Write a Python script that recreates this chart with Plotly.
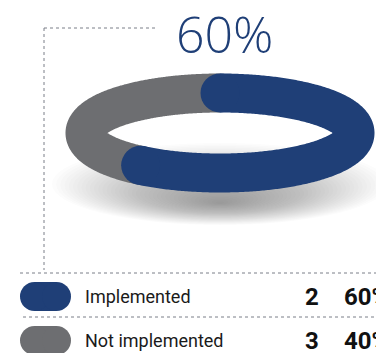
import numpy as np
import plotly.graph_objects as go

# ---- data ----
labels = ["Implemented", "Not implemented"]
counts = [2, 3]
percents = [60, 40]
colors = ["#1f3f77", "#6d6e71"]

W, H = 376, 353
cx, cy, rx, ry = 220, 133, 135, 40
band = 39

fig = go.Figure()

# soft floor shadow under the ring
N = 40
for i in range(N):
    s = 1 - i / N
    ycen = 203 - 18 * s
    fig.add_shape(type="circle", xref="x", yref="y",
                  x0=cx - 168 * s, x1=cx + 168 * s,
                  y0=ycen - 42 * s, y1=ycen + 40 * s,
                  fillcolor="rgba(70,70,70,0.014)", line_width=0, layer="below")

fracs = np.array(percents, dtype=float) / sum(percents)
starts = np.concatenate([[0], np.cumsum(fracs)[:-1]])

for k in reversed(range(len(labels))):
    t = 2 * np.pi * np.linspace(starts[k], starts[k] + fracs[k], 300)
    x = cx + rx * np.sin(t)
    y = cy - ry * np.cos(t)
    fig.add_trace(go.Scatter(x=x, y=y, mode="lines",
                             line=dict(color=colors[k], width=band, simplify=False),
                             hoverinfo="skip", showlegend=False))
    if k == 0:
        fig.add_trace(go.Scatter(x=[x[0], x[-1]], y=[y[0], y[-1]], mode="markers",
                                 marker=dict(color=colors[k], size=band, line_width=0),
                                 hoverinfo="skip", showlegend=False))

# big headline value
fig.add_annotation(x=224, y=33.5, xref="x", yref="y", text=f"{percents[0]}%",
                   showarrow=False, xanchor="center", yanchor="middle",
                   font=dict(family="Open Sans", size=50, color=colors[0], weight=300))

# dotted leader lines
dot = dict(color="#7a7f88", width=1, dash="dot")
fig.add_shape(type="line", xref="x", yref="y", x0=44, x1=156, y0=28, y1=28, line=dot)
fig.add_shape(type="line", xref="x", yref="y", x0=44, x1=44, y0=28, y1=270, line=dot)

# legend rows
row_y = [296.5, 340.5]
sep_y = [273, 317]
sep_x0 = [20, 23]
for k in range(len(labels)):
    fig.add_shape(type="line", xref="x", yref="y", x0=sep_x0[k], x1=376,
                  y0=sep_y[k], y1=sep_y[k], line=dot)
    fig.add_trace(go.Scatter(x=[34.5, 56.5], y=[row_y[k], row_y[k]], mode="lines+markers",
                             line=dict(color=colors[k], width=29),
                             marker=dict(color=colors[k], size=29, line_width=0),
                             hoverinfo="skip", showlegend=False))
    fig.add_annotation(x=83, y=row_y[k], xref="x", yref="y", text=labels[k],
                       showarrow=False, xanchor="left", yanchor="middle",
                       font=dict(family="Roboto", size=18, color="#1a1a1a"))
    fig.add_annotation(x=303, y=row_y[k], xref="x", yref="y", text=f"<b>{counts[k]}</b>",
                       showarrow=False, xanchor="left", yanchor="middle",
                       font=dict(family="Roboto", size=24, color="#111111"))
    fig.add_annotation(x=342, y=row_y[k], xref="x", yref="y", text=f"<b>{percents[k]}%</b>",
                       showarrow=False, xanchor="left", yanchor="middle",
                       font=dict(family="Roboto", size=24, color="#111111"))

fig.update_layout(
    width=W, height=H, margin=dict(l=0, r=0, t=0, b=0),
    paper_bgcolor="white", plot_bgcolor="white",
    xaxis=dict(range=[0, W], visible=False, fixedrange=True),
    yaxis=dict(range=[H, 0], visible=False, fixedrange=True),
    showlegend=False,
)

fig.write_html("out.html", config={"displayModeBar": False})
